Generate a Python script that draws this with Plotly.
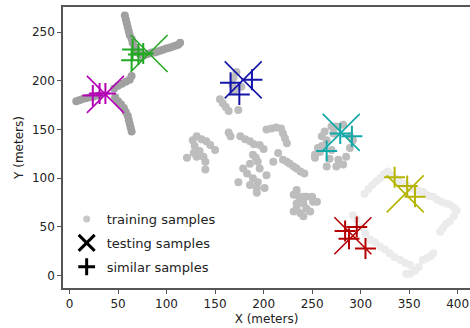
import plotly.graph_objects as go

# ---------------- data (metres) ----------------
# training samples, darker gray (upper-left corridor)
train_dark_x = [57, 58, 59, 60, 61, 62, 64, 65, 67, 69,
                70, 73, 76, 79, 82, 85,
                88, 91, 94, 97, 100, 103, 106, 109, 112, 114,
                64, 62, 58, 54, 50, 46,
                7, 10, 13, 17, 21, 25, 30,
                47, 50, 53, 56, 58, 60, 61, 62, 63, 64]
train_dark_y = [267, 263, 259, 255, 251, 247, 243, 239, 235, 232,
                229, 227, 226, 227, 228, 229,
                229, 230, 231, 232, 233, 234, 235, 236, 237, 239,
                205, 201, 199, 197, 195, 192,
                179, 180, 181, 182, 183, 184, 185,
                183, 179, 176, 172, 168, 164, 160, 156, 152, 148]

# training samples, mid gray (central area)
train_mid_x = [172, 169, 168, 177, 170, 155, 158, 161, 164, 174,
               164, 166, 176, 181, 186, 190, 196, 200,
               131, 136, 141, 145, 129, 128, 150, 121, 131, 138, 140, 140, 134, 127,
               203, 208, 213, 218, 220, 222, 224, 215, 210,
               189, 186, 194, 196, 203, 183, 179, 174, 186, 193, 201, 193, 189, 194, 192,
               220, 224, 227, 231, 234, 238, 242,
               234, 234, 231, 237, 241, 244, 234, 241, 250, 251, 255, 244, 248, 231, 238, 241, 234,
               253, 258, 253, 256, 260, 265, 263, 270, 272, 275, 282, 270, 277, 282, 275, 265,
               289, 292, 289, 260, 285, 268]
train_mid_y = [209, 203, 196, 194, 190, 181, 177, 173, 169, 170,
               147, 143, 143, 140, 138, 135, 134, 130,
               143, 140, 138, 134, 133, 126, 129, 121, 122, 122, 117, 109, 128, 139,
               150, 151, 152, 151, 146, 141, 136, 126, 117,
               124, 115, 117, 110, 103, 105, 110, 96, 93, 90, 90, 85, 100, 96, 121,
               119, 117, 115, 112, 110, 107, 105,
               88, 85, 83, 80, 81, 81, 74, 74, 81, 76, 76, 69, 66, 66, 64, 61, 69,
               124, 127, 121, 131, 133, 139, 148, 153, 146, 153, 155, 129, 119, 114, 112, 112,
               131, 139, 143, 143, 122, 120]

# training samples, light gray (lower-right loop)
train_light_x = [304, 308, 312, 316, 320, 324, 328, 332, 336, 340, 344, 348, 352, 356, 360, 365,
                 370, 375, 379, 383, 388, 392, 396, 399, 396, 392, 388, 385, 382,
                 292, 296, 301, 305, 310, 315, 320, 325, 330, 335, 341, 346, 351, 356, 351, 347,
                 360, 364, 368, 372, 375]
train_light_y = [84, 89, 93, 97, 100, 104, 107, 103, 100, 97, 94, 92, 90, 88, 87, 86,
                 82, 81, 78, 76, 74, 73, 70, 67, 61, 56, 53, 49, 45,
                 62, 58, 50, 43, 37, 34, 30, 27, 23, 19, 16, 13, 11, 5, 2, 2,
                 9, 16, 18, 20, 23]

# testing samples (one per colour) and their similar samples
group_colors = ["#b400b4", "#22a822", "#1414aa", "#12a8a8", "#b4b400", "#b40000"]
test_x = [37, 82, 179, 280, 346, 292]
test_y = [186, 228, 201, 147, 84, 41]
similar_x = [[24, 31, 37], [65, 64, 76, 71], [166, 175, 188], [279, 291, 265], [335, 348, 356], [284, 296, 305, 288]]
similar_y = [[185, 187, 187], [232, 221, 228, 227], [198, 186, 201], [146, 143, 128], [101, 92, 81], [46, 50, 28, 38]]

legend_labels = ["training samples", "testing samples", "similar samples"]

FONT = "DejaVu Sans"
fig = go.Figure()

for xs, ys, c in [(train_dark_x, train_dark_y, "#a0a0a0"),
                  (train_mid_x, train_mid_y, "#bdbdbd"),
                  (train_light_x, train_light_y, "#ebebeb")]:
    fig.add_trace(go.Scatter(x=xs, y=ys, mode="markers", showlegend=False, hoverinfo="skip",
                             marker=dict(color=c, size=8, line=dict(width=0))))

for i, c in enumerate(group_colors):
    fig.add_trace(go.Scatter(x=[test_x[i]], y=[test_y[i]], mode="markers", showlegend=False,
                             marker=dict(symbol="x-thin", size=37, color=c, line=dict(color=c, width=1.6))))
    fig.add_trace(go.Scatter(x=similar_x[i], y=similar_y[i], mode="markers", showlegend=False,
                             marker=dict(symbol="cross-thin", size=15, color=c, line=dict(color=c, width=2))))

# legend-only entries
fig.add_trace(go.Scatter(x=[None], y=[None], mode="markers", name=legend_labels[0], legendgroup="a",
                         marker=dict(color="#c8c8c8", size=7)))
fig.add_trace(go.Scatter(x=[None], y=[None], mode="markers", name=legend_labels[1], legendgroup="b",
                         marker=dict(symbol="x-thin", size=16, color="black", line=dict(color="black", width=3))))
fig.add_trace(go.Scatter(x=[None], y=[None], mode="markers", name=legend_labels[2], legendgroup="c",
                         marker=dict(symbol="cross-thin", size=12, color="black", line=dict(color="black", width=3))))

axis_common = dict(showgrid=False, zeroline=False, showline=True, linecolor="#555", linewidth=1.5,
                   ticks="outside", ticklen=4, tickwidth=1, tickcolor="#555", automargin=False,
                   tickfont=dict(family=FONT, size=12, color="#222"),
                   title_font=dict(family=FONT, size=12, color="#222"))

fig.update_layout(
    width=470, height=328,
    margin=dict(l=63, r=0, t=7, b=40),
    plot_bgcolor="white", paper_bgcolor="white",
    font=dict(family=FONT, size=12, color="#222"),
    xaxis=dict(range=[-6.7, 412.7], tickvals=[0, 50, 100, 150, 200, 250, 300, 350, 400],
               title=dict(text="X (meters)", standoff=4), mirror=True, **axis_common),
    yaxis=dict(range=[-12.6, 275.7], tickvals=[0, 50, 100, 150, 200, 250],
               title=dict(text="Y (meters)", standoff=6), mirror=False, **axis_common),
    legend=dict(x=0.009, y=0.299, xanchor="left", yanchor="top", bgcolor="rgba(0,0,0,0)",
                font=dict(family=FONT, size=13, color="#222"), borderwidth=0,
                itemsizing="trace", traceorder="grouped", tracegroupgap=4),
)

fig.write_html("out.html", config={"displayModeBar": False},
               post_script="document.body.style.margin='0';document.body.style.overflow='hidden';")
